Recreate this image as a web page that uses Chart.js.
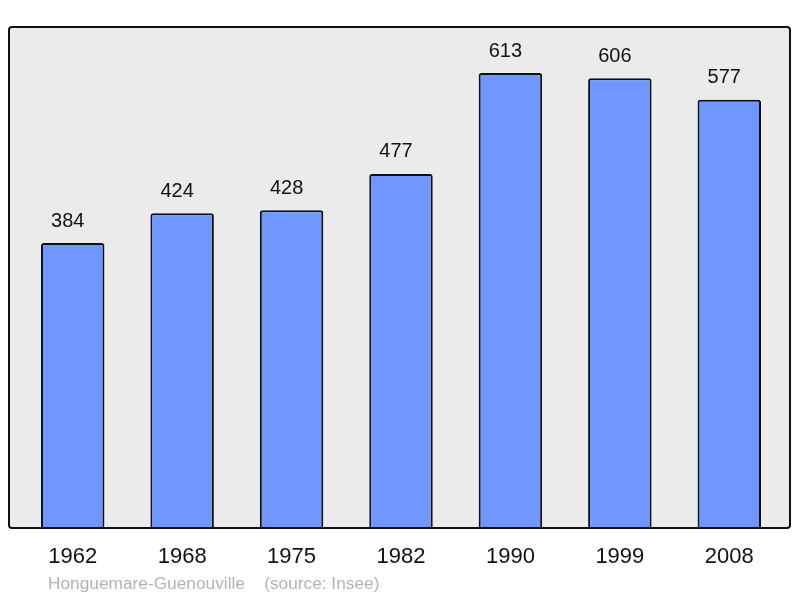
<!DOCTYPE html>
<html>
<head>
<meta charset="utf-8">
<script src="https://cdn.jsdelivr.net/npm/chart.js@4/dist/chart.umd.min.js"></script>
<style>
html,body{margin:0;padding:0;background:#fff;}
#wrap{width:800px;height:598px;position:relative;}
</style>
</head>
<body>
<div id="wrap"><canvas id="c" width="800" height="598"></canvas></div>
<script>
const years = ["1962","1968","1975","1982","1990","1999","2008"];
const population = [384,424,428,477,613,606,577];
const sourceText = "Honguemare-Guenouville    (source: Insee)";

const framePlugin = {
  id: 'frame',
  beforeDraw(chart) {
    const {ctx, chartArea: a} = chart;
    const x0 = a.left - 9, x1 = a.right + 6, y0 = a.top, y1 = a.bottom;
    ctx.save();
    ctx.beginPath();
    ctx.roundRect(x0, y0, x1 - x0, y1 - y0, 3);
    ctx.fillStyle = '#ebebeb';
    ctx.fill();
    ctx.restore();
  },
  afterDatasetsDraw(chart) {
    const {ctx, chartArea: a} = chart;
    const x0 = a.left - 9, x1 = a.right + 6, y0 = a.top, y1 = a.bottom;
    ctx.save();
    ctx.beginPath();
    ctx.roundRect(x0, y0, x1 - x0, y1 - y0, 3);
    ctx.lineWidth = 2;
    ctx.strokeStyle = '#111';
    ctx.stroke();
    const meta = chart.getDatasetMeta(0);
    ctx.fillStyle = '#111';
    ctx.font = '20px "Liberation Sans", Arial, sans-serif';
    ctx.textAlign = 'center';
    ctx.textBaseline = 'middle';
    meta.data.forEach((bar, i) => {
      ctx.fillText(String(population[i]), bar.x - 5, bar.y - 22);
    });
    ctx.fillStyle = '#b3b3b3';
    ctx.font = '17.3px "Liberation Sans", Arial, sans-serif';
    ctx.textAlign = 'left';
    ctx.fillText(sourceText, a.left + 30, a.bottom + 56);
    ctx.restore();
  }
};

new Chart(document.getElementById('c'), {
  type: 'bar',
  data: {
    labels: years,
    datasets: [{
      data: population,
      backgroundColor: '#7096ff',
      borderColor: '#111',
      borderWidth: 2,
      borderRadius: 2.5,
      borderSkipped: 'bottom',
      categoryPercentage: 1,
      barPercentage: 0.58
    }]
  },
  options: {
    responsive: false,
    animation: false,
    devicePixelRatio: 1,
    layout: { padding: { left: 18, right: 16, top: 27, bottom: 30 } },
    plugins: { legend: { display: false }, tooltip: { enabled: false }, title: { display: false } },
    scales: {
      x: {
        grid: { display: false, drawTicks: false },
        border: { display: false },
        afterFit(s) { s.height = 40; },
        ticks: {
          color: '#111',
          font: { size: 22, family: '"Liberation Sans", Arial, sans-serif' },
          padding: 16,
          maxRotation: 0
        }
      },
      y: {
        display: false,
        min: 0,
        max: 675
      }
    }
  },
  plugins: [framePlugin]
});
</script>
</body>
</html>
